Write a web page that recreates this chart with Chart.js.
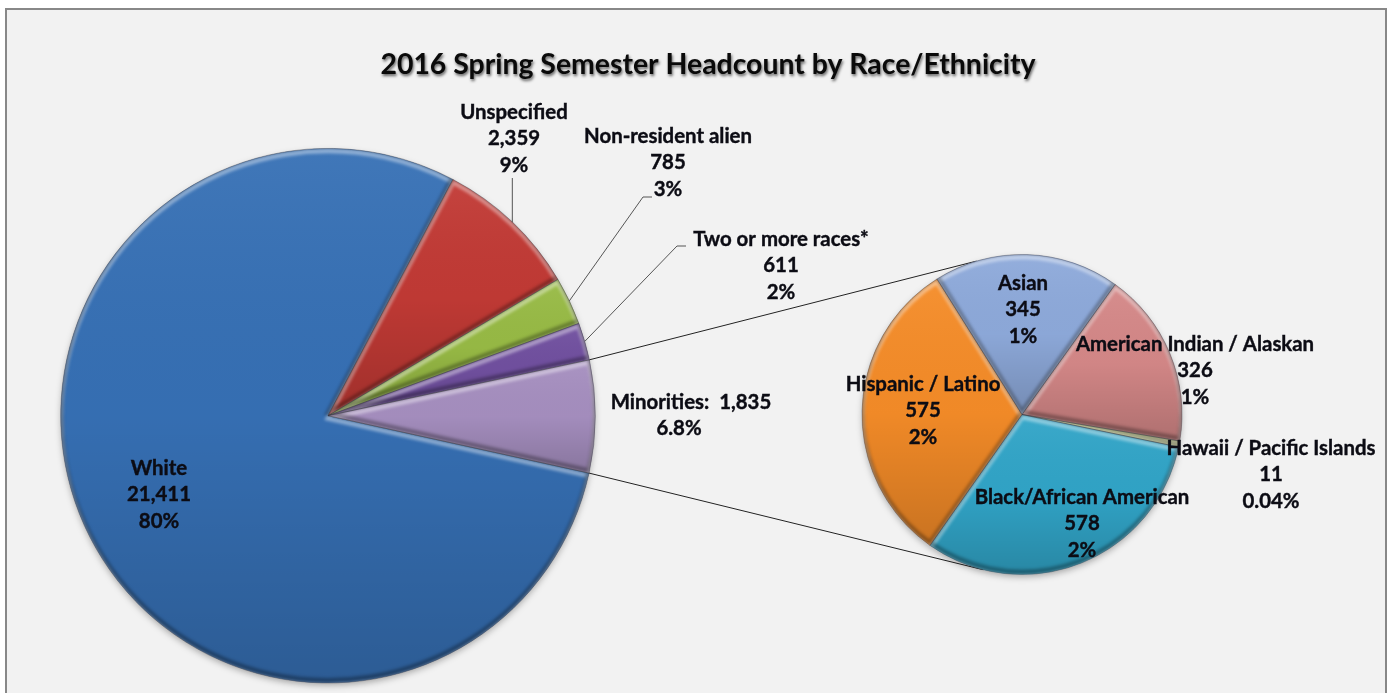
<!DOCTYPE html>
<html>
<head>
<meta charset="utf-8">
<script src="https://cdn.jsdelivr.net/npm/chart.js@4/dist/chart.umd.min.js"></script>
<style>
html,body{margin:0;padding:0;background:#fff;overflow:hidden;width:1388px;height:693px}
#panel{position:absolute;left:5px;top:8px;width:1378px;height:685px;background:#f2f2f2;border:2px solid #888;border-bottom:none}
canvas{position:absolute;left:0;top:0}
</style>
</head>
<body>
<div id="panel"></div>
<canvas id="main" width="1388" height="693"></canvas>
<canvas id="detail" width="1388" height="693"></canvas>
<script>
const chartTitle = '2016 Spring Semester Headcount by Race/Ethnicity';

const mainCategories = ['White', 'Unspecified', 'Non-resident alien', 'Two or more races*', 'Minorities'];
const mainValues = [21411, 2359, 785, 611, 1835];
const mainPercents = ['80%', '9%', '3%', '2%', '6.8%'];
const mainColors = ['#3670b5', '#c23a35', '#98bb45', '#7150a0', '#a68fc0'];

const detailCategories = ['American Indian / Alaskan', 'Hawaii / Pacific Islands', 'Black/African American', 'Hispanic / Latino', 'Asian'];
const detailValues = [326, 11, 578, 575, 345];
const detailPercents = ['1%', '0.04%', '2%', '2%', '1%'];
const detailColors = ['#d58888', '#dfe89a', '#31a5c8', '#f58c28', '#8eaadb'];

const FONT = '"Lato", "Open Sans", sans-serif';
const LABEL_SIZE = 20.4;
const LINE_PITCH = 26.7;

// layout (centre of first line of each label)
const mainLabelPos = [[159, 468], [514, 112], [668, 136], [781, 239], [691, 402]];
const detailLabelPos = [[1195, 344], [1271, 448], [1082, 497], [923, 384], [1023, 283]];
const MAIN = {cx: 328, cy: 415.5, r: 267.5, rotation: 102.4};
const DETAIL = {cx: 1022, cy: 414.5, r: 160, rotation: 35.6};
const TITLE_H = 28;
const W = 1388, H = 693;

function arcPath(ctx, a) {
  ctx.beginPath();
  ctx.moveTo(a.x, a.y);
  ctx.arc(a.x, a.y, a.outerRadius, a.startAngle, a.endAngle);
  ctx.closePath();
}
function arcYRange(a) {
  let lo = a.y, hi = a.y;
  for (let i = 0; i <= 40; i++) {
    const t = a.startAngle + (a.endAngle - a.startAngle) * i / 40;
    const y = a.y + a.outerRadius * Math.sin(t);
    lo = Math.min(lo, y); hi = Math.max(hi, y);
  }
  return [lo, hi];
}
const bevel = {
  id: 'bevel',
  beforeDatasetsDraw(chart) {
    const ctx = chart.ctx;
    const a = chart.getDatasetMeta(0).data[0];
    ctx.shadowColor = 'transparent';
    ctx.save();
    ctx.shadowColor = 'rgba(0,0,0,0.35)';
    ctx.shadowBlur = 7;
    ctx.shadowOffsetY = 3;
    ctx.fillStyle = '#888';
    ctx.beginPath();
    ctx.arc(a.x, a.y, a.outerRadius - 1, 0, Math.PI * 2);
    ctx.fill();
    ctx.restore();
  },
  afterDatasetsDraw(chart) {
    const ctx = chart.ctx;
    chart.getDatasetMeta(0).data.forEach((a) => {
      const [lo, hi] = arcYRange(a);
      ctx.save();
      arcPath(ctx, a);
      ctx.clip();
      const g = ctx.createLinearGradient(0, lo, 0, hi);
      g.addColorStop(0, 'rgba(255,255,255,0.05)');
      g.addColorStop(0.5, 'rgba(0,0,0,0.02)');
      g.addColorStop(1, 'rgba(0,0,0,0.18)');
      ctx.fillStyle = g;
      ctx.fillRect(a.x - a.outerRadius, lo, a.outerRadius * 2, hi - lo);
      ctx.filter = 'blur(1.5px)';
      ctx.lineWidth = 5;
      ctx.save();
      ctx.translate(0, 2.5);
      arcPath(ctx, a);
      ctx.strokeStyle = 'rgba(255,255,255,0.42)';
      ctx.stroke();
      ctx.restore();
      ctx.save();
      ctx.translate(0, -2.5);
      arcPath(ctx, a);
      ctx.strokeStyle = 'rgba(0,0,0,0.30)';
      ctx.stroke();
      ctx.restore();
      ctx.filter = 'none';
      ctx.restore();
      arcPath(ctx, a);
      ctx.lineWidth = 1;
      ctx.strokeStyle = 'rgba(50,50,60,0.35)';
      ctx.stroke();
    });
  }
};
function drawLines(ctx, lines, x, y) {
  ctx.save();
  ctx.font = 'bold ' + LABEL_SIZE + 'px ' + FONT;
  ctx.fillStyle = '#0c0c14';
  ctx.strokeStyle = '#0c0c14';
  ctx.lineWidth = 0.4;
  ctx.textAlign = 'center';
  ctx.textBaseline = 'middle';
  lines.forEach((s, i) => {
    ctx.fillText(s, x, y + i * LINE_PITCH);
    ctx.strokeText(s, x, y + i * LINE_PITCH);
  });
  ctx.restore();
}
function midPoint(a) {
  const m = (a.startAngle + a.endAngle) / 2;
  return [a.x + a.outerRadius * Math.cos(m), a.y + a.outerRadius * Math.sin(m)];
}
function polar(p, deg) {
  const t = (deg - 90) * Math.PI / 180;
  return [p.cx + p.r * Math.cos(t), p.cy + p.r * Math.sin(t)];
}
const mainDecor = {
  id: 'mainDecor',
  afterLayout(chart) {
    const t = chart.titleBlock;
    t.left = 28; t.right = W; t.width = W - 28;
    t.top = 51; t.bottom = 51 + TITLE_H;
  },
  beforeDraw(chart) {
    // soft shadow for the title block, which is drawn right after this hook
    const ctx = chart.ctx;
    ctx.shadowColor = 'rgba(0,0,0,0.6)';
    ctx.shadowBlur = 3;
    ctx.shadowOffsetX = 1;
    ctx.shadowOffsetY = 2;
  },
  beforeDatasetsDraw(chart) {
    const ctx = chart.ctx;
    ctx.shadowColor = 'transparent';
    ctx.shadowBlur = 0;
    ctx.shadowOffsetX = 0;
    ctx.shadowOffsetY = 0;
  },
  afterDraw(chart) {
    const ctx = chart.ctx;
    const arcs = chart.getDatasetMeta(0).data;
    ctx.save();
    ctx.lineWidth = 1;
    ctx.strokeStyle = '#555';
    const leader = (a, pts) => {
      ctx.beginPath();
      ctx.moveTo(...midPoint(a));
      pts.forEach(p => ctx.lineTo(p[0], p[1]));
      ctx.stroke();
    };
    leader(arcs[1], [[midPoint(arcs[1])[0], 178]]);
    leader(arcs[2], [[643, 197], [652, 197]]);
    leader(arcs[3], [[677, 246], [686, 246]]);
    // connector lines towards the detail pie
    const m = arcs[4];
    ctx.strokeStyle = '#222';
    ctx.beginPath();
    ctx.moveTo(m.x + m.outerRadius * Math.cos(m.startAngle), m.y + m.outerRadius * Math.sin(m.startAngle));
    ctx.lineTo(...polar(DETAIL, -16.5));
    ctx.stroke();
    ctx.beginPath();
    ctx.moveTo(m.x + m.outerRadius * Math.cos(m.endAngle), m.y + m.outerRadius * Math.sin(m.endAngle));
    ctx.lineTo(...polar(DETAIL, 194));
    ctx.stroke();
    ctx.restore();
    mainCategories.forEach((c, i) => {
      const [x, y] = mainLabelPos[i];
      const v = mainValues[i].toLocaleString('en-US');
      if (c === 'Minorities') {
        drawLines(ctx, [c + ':  ' + v], x, y);
        drawLines(ctx, [mainPercents[i]], x - 12, y + LINE_PITCH);
      } else {
        drawLines(ctx, [c, v, mainPercents[i]], x, y);
      }
    });
  }
};
const detailDecor = {
  id: 'detailDecor',
  afterDraw(chart) {
    detailCategories.forEach((c, i) => {
      const [x, y] = detailLabelPos[i];
      drawLines(chart.ctx, [c, detailValues[i].toLocaleString('en-US'), detailPercents[i]], x, y);
    });
  }
};
const quiet = {legend: {display: false}, tooltip: {enabled: false}};

new Chart(document.getElementById('main'), {
  type: 'pie',
  data: {labels: mainCategories, datasets: [{data: mainValues, backgroundColor: mainColors, borderWidth: 0}]},
  options: {
    responsive: false, animation: false, rotation: MAIN.rotation,
    events: [],
    layout: {padding: {
      left: MAIN.cx - MAIN.r, right: W - MAIN.cx - MAIN.r,
      top: MAIN.cy - MAIN.r - TITLE_H, bottom: H - MAIN.cy - MAIN.r}},
    plugins: {...quiet, title: {
      display: true, text: chartTitle, color: '#0a0a0a', padding: 0,
      font: {family: FONT, size: 28.4, weight: 'bold', lineHeight: 1}}}
  },
  plugins: [mainDecor, bevel]
});
new Chart(document.getElementById('detail'), {
  type: 'pie',
  data: {labels: detailCategories, datasets: [{data: detailValues, backgroundColor: detailColors, borderWidth: 0}]},
  options: {
    responsive: false, animation: false, rotation: DETAIL.rotation,
    events: [],
    layout: {padding: {
      left: DETAIL.cx - DETAIL.r, right: W - DETAIL.cx - DETAIL.r,
      top: DETAIL.cy - DETAIL.r, bottom: H - DETAIL.cy - DETAIL.r}},
    plugins: {...quiet}
  },
  plugins: [bevel, detailDecor]
});
</script>
</body>
</html>
